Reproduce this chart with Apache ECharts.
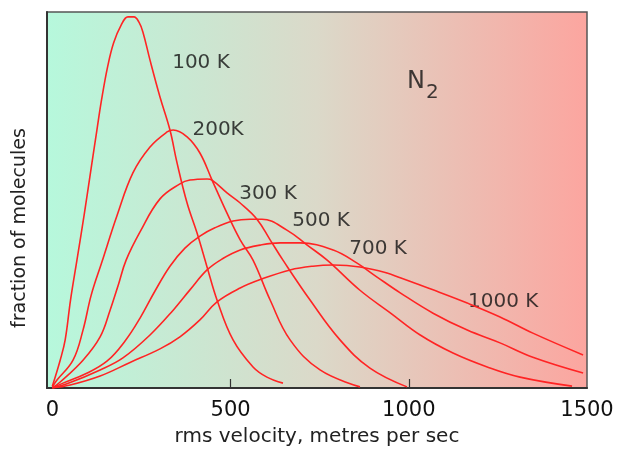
<!DOCTYPE html>
<html><head><meta charset="utf-8">
<script src="https://cdn.jsdelivr.net/npm/echarts@6/dist/echarts.min.js"></script>
<style>html,body{margin:0;padding:0;background:#fff}#c{width:624px;height:450px}</style>
</head><body><div id="c"></div>
<script>
// velocity (m/s), fraction of molecules (arbitrary units, 0-100)
const k100 = [[0,0.5],[22,7.4],[36,12.8],[51,23.4],[69,34],[90,46.5],[111,59.8],[125,68.6],[138,76.6],[155,85.4],[172,91.8],[193,96.5],[212,98.7],[229,98.7],[243,97.3],[254,94.7],[274,87.2],[302,77.4],[330,68.6],[350,59.8],[378,49.2],[406,41.2],[434,32.2],[462,23.4],[507,12.8],[563,5.6],[602,2.9],[647,1.3]];
const k200 = [[0,0.3],[13,2.1],[58,7.4],[86,15.4],[109,24.7],[139,33.5],[182,46],[226,57.2],[274,64.1],[322,68.1],[339,68.6],[378,66.8],[414,62.5],[448,55.3],[490,46.5],[527,39.4],[563,34],[611,23.4],[667,12.8],[751,4.8],[863,0.3]];
const k300 = [[0,0],[22,1.6],[86,7.4],[134,13.6],[162,20.7],[185,27.4],[207,34],[246,41.5],[302,50.3],[358,54.3],[386,55.3],[434,55.6],[448,55.3],[490,51.9],[527,49.2],[574,44.9],[611,39.4],[647,34],[723,23.4],[807,12.8],[891,5.3],[995,0.3]];
const k500 = [[0,0],[30,1.3],[92,3.7],[154,7.2],[204,12.5],[246,18.6],[288,25.8],[330,32.4],[372,37.2],[414,40.4],[456,42.6],[507,44.4],[555,44.9],[588,44.9],[658,42],[715,38],[771,34],[863,26],[948,20],[1032,14.1],[1124,9.3],[1220,5.6],[1312,2.9],[1458,0.5]];
const k700 = [[0,0],[41,1.1],[134,4.8],[198,8],[274,14.1],[339,20.7],[386,26.1],[434,31.4],[476,34.3],[527,36.7],[583,38],[639,38.6],[695,38.6],[788,36.7],[855,33.2],[911,29.5],[976,25.3],[1068,19.9],[1164,15.4],[1256,12],[1348,8.2],[1489,4]];
const k1000 = [[0,0],[50,0.8],[134,3.2],[218,6.8],[302,10.4],[358,13.6],[414,18.1],[462,22.9],[527,26.6],[588,29],[667,31.4],[731,32.4],[788,32.7],[863,32.2],[939,30.6],[976,29.3],[1068,26.1],[1164,22.6],[1256,18.9],[1348,14.6],[1489,8.8]];
const curveLabels = [
  {text:'100 K', at:[417,86.6]},
  {text:'200K', at:[465,68.6]},
  {text:'300 K', at:[605,51.6]},
  {text:'500 K', at:[754,44.4]},
  {text:'700 K', at:[914,37]},
  {text:'1000 K', at:[1265,22.9]}
];
const formulaAt = [995,81.5];
const xTickLabels = [0,500,1000,1500];
const xTickMarks = [500,1000];

const chart = echarts.init(document.getElementById('c'));
const red = '#ff2424';
const curves = [k100,k200,k300,k500,k700,k1000];
const series = curves.map(d => ({
  type:'line', data:d, showSymbol:false, smooth:0.4, silent:true,
  lineStyle:{color:red, width:1.6}, z:3
}));
const txt = {fontFamily:'DejaVu Sans', color:'#111', textBorderWidth:0, textBorderColor:'transparent'};
series.push({
  type:'scatter', symbolSize:0, silent:true,
  data: curveLabels.map(l => ({value:l.at, name:l.text})),
  label:Object.assign({show:true, position:'inside', formatter:p=>p.name, fontSize:20}, txt)
});
series.push({
  type:'scatter', symbolSize:0, silent:true,
  data:[{value:formulaAt, name:'N2'}],
  label:{show:true, position:'right', distance:0, formatter:'{a|N}{b|2}',
    rich:{a:Object.assign({fontSize:24}, txt), b:Object.assign({fontSize:20, padding:[22,0,0,1]}, txt)}}
});

chart.setOption({
  animation:false,
  grid:{left:47, right:37, top:12, bottom:62, outerBoundsMode:'none', containLabel:false, show:true, borderColor:'#555', borderWidth:1.5,
    backgroundColor: new echarts.graphic.LinearGradient(0,0,1,0,[
      {offset:0, color:'#b6f8dc'},{offset:0.5, color:'#dbd9c9'},{offset:1, color:'#fca59f'}])},
  xAxis:{type:'value', min:-15, max:1500,
    axisLine:{lineStyle:{color:'#333', width:2}},
    axisTick:{show:true, inside:true, length:9, customValues:xTickMarks, lineStyle:{color:'#333', width:1.2}},
    axisLabel:{customValues:xTickLabels, formatter:v=>String(v), fontFamily:'DejaVu Sans', fontSize:21, color:'#111', margin:12},
    splitLine:{show:false},
    name:'rms velocity, metres per sec', nameLocation:'middle', nameGap:39,
    nameTextStyle:{fontFamily:'DejaVu Sans', fontSize:20, color:'#222'}},
  yAxis:{type:'value', min:0, max:100,
    axisLine:{show:true, onZero:false, lineStyle:{color:'#333', width:2}},
    axisTick:{show:false}, axisLabel:{show:false}, splitLine:{show:false},
    name:'fraction of molecules', nameLocation:'middle', nameGap:17,
    nameTextStyle:{fontFamily:'DejaVu Sans', fontSize:19, color:'#222', padding:[0,56,0,0]}},
  series:series
});
</script></body></html>
